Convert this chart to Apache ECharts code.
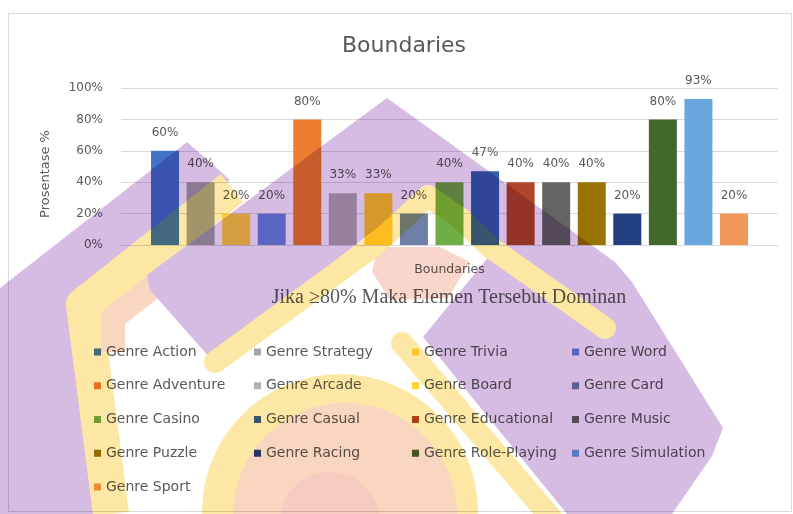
<!DOCTYPE html>
<html>
<head>
<meta charset="utf-8">
<script src="https://cdn.jsdelivr.net/npm/echarts@6/dist/echarts.min.js"></script>
<style>
  html, body { margin: 0; padding: 0; background: #ffffff; }
  #chart { width: 793px; height: 514px; }
</style>
</head>
<body>
<div id="chart"></div>
<script>
// Chart data
const chartTitle = 'Boundaries';
const categories = ['Boundaries'];
const genres = [
  'Genre Action', 'Genre Strategy', 'Genre Trivia', 'Genre Word',
  'Genre Adventure', 'Genre Arcade', 'Genre Board', 'Genre Card',
  'Genre Casino', 'Genre Casual', 'Genre Educational', 'Genre Music',
  'Genre Puzzle', 'Genre Racing', 'Genre Role-Playing', 'Genre Simulation',
  'Genre Sport'
];
const percentages = [60, 40, 20, 20, 80, 33, 33, 20, 40, 47, 40, 40, 40, 20, 80, 93, 20];
const genreColors = [
  '#4472C4', '#A5A5A5', '#FFD848', '#6A8AD8',
  '#ED7D31', '#B4AFB2', '#FFD030', '#6E80A5',
  '#70AD47', '#375EAB', '#B0452C', '#636363',
  '#997300', '#22407F', '#43682B', '#6CA6DE',
  '#F1975A'
];
const yTickStep = 20;
const yMax = 100;
const footnote = 'Jika \u226580% Maka Elemen Tersebut Dominan';
const yAxisTitle = 'Prosentase %';

const textGray = '#595959';
const gridGray = '#D9D9D9';
const uiFont = 'DejaVu Sans';

// One bar series per genre, all inside the single category
const series = genres.map((name, i) => ({
  name: name,
  type: 'bar',
  data: [percentages[i]],
  barWidth: 28,
  barGap: '27%',
  itemStyle: { color: genreColors[i] },
  label: {
    show: true,
    position: 'top',
    distance: 12,
    formatter: '{c}%',
    color: textGray,
    fontSize: 12,
    fontFamily: uiFont
  }
}));

// Legend laid out as four columns, filled row by row
const legendLefts = [89, 249, 407, 567];
const legends = legendLefts.map((left, col) => ({
  orient: 'vertical',
  left: left,
  top: 340,
  itemWidth: 7,
  itemHeight: 7,
  itemGap: 19.75,
  itemTextGap: 10,
  icon: 'rect',
  selectedMode: false,
  data: genres.filter((g, i) => i % 4 === col),
  textStyle: { color: textGray, fontSize: 14, fontFamily: uiFont, lineHeight: 14 }
}));

// Emblem watermark: opaque shapes on their own layer, multiplied over the chart
const EMBLEM_LAYER = 1;
const lavender = '#D6BBE3';
const butter = '#FCE7A4';
const peach = '#F9D6C0';
const blush = '#F8D6CB';
function poly(points, fill) {
  return { type: 'polygon', zlevel: EMBLEM_LAYER, silent: true,
    shape: { points: points }, style: { fill: fill } };
}
function band(points, color, width, cap) {
  return { type: 'polyline', zlevel: EMBLEM_LAYER, silent: true,
    shape: { points: points },
    style: { stroke: color, lineWidth: width, lineJoin: 'round', lineCap: cap || 'round', fill: null } };
}
function disc(cx, cy, r, fill) {
  return { type: 'circle', zlevel: EMBLEM_LAYER, silent: true,
    shape: { cx: cx, cy: cy, r: r }, style: { fill: fill } };
}
const emblem = [
  disc(340, 512, 138, butter),
  disc(345, 515, 112, peach),
  disc(330, 522, 50, '#F6CBC0'),
  poly([[0,288],[187,142],[230,180],[100,280],[84,292],[72,312],[98,514],[0,514]], lavender),
  band([[111,514],[84,305],[232,188]], butter, 36, 'butt'),
  band([[113,352],[113,318],[190,258]], peach, 24, 'butt'),
  poly([[147,275],[387,98],[615,262],[632,282],[723,428],[712,456],[672,514],[567,514],
        [423,337],[490,255],[460,218],[428,190],[372,232],[210,358],[150,290]], lavender),
  poly([[378,247],[440,247],[470,262],[448,298],[390,300],[372,272]], blush),
  band([[215,362],[375,245],[428,196],[460,218],[490,247],[605,328]], butter, 22),
  band([[402,343],[553,520]], butter, 22)
];

const chart = echarts.init(document.getElementById('chart'), null, { renderer: 'canvas' });
chart.setOption({
  backgroundColor: '#ffffff',
  animation: false,
  textStyle: { fontFamily: uiFont },
  grid: { left: 121, right: 15, top: 88, bottom: 269 },
  legend: legends,
  xAxis: {
    type: 'category',
    data: categories,
    axisLine: { show: true, lineStyle: { color: gridGray } },
    axisTick: { show: false },
    axisLabel: { color: textGray, fontSize: 12.5, margin: 18, fontFamily: uiFont }
  },
  yAxis: {
    type: 'value',
    min: 0,
    max: yMax,
    interval: yTickStep,
    axisLine: { show: false },
    axisTick: { show: false },
    splitLine: { lineStyle: { color: gridGray } },
    axisLabel: { color: textGray, fontSize: 12, margin: 18, formatter: '{value}%', fontFamily: uiFont }
  },
  series: series,
  graphic: [
    { type: 'rect', silent: true,
      shape: { x: 8.5, y: 13.5, width: 783, height: 498 },
      style: { fill: 'none', stroke: gridGray, lineWidth: 1 } },
    { type: 'text', x: 404, y: 46,
      style: { text: chartTitle, fill: textGray, font: '22px "DejaVu Sans"', textAlign: 'center', textVerticalAlign: 'middle' } },
    { type: 'text', x: 46, y: 174, rotation: Math.PI / 2,
      style: { text: yAxisTitle, fill: textGray, font: '13px "DejaVu Sans"', textAlign: 'center', textVerticalAlign: 'middle' } },
    { type: 'text', x: 449, y: 298,
      style: { text: footnote, fill: textGray, font: '20px "Liberation Serif"', textAlign: 'center', textVerticalAlign: 'middle' } }
  ].concat(emblem)
});

// Blend the emblem layer over the chart layer
const dom = chart.getDom();
let emblemCanvas = dom.querySelector('canvas[data-zr-dom-id="zr_' + EMBLEM_LAYER + '"]');
if (!emblemCanvas) {
  const all = dom.querySelectorAll('canvas');
  emblemCanvas = all.length > 1 ? all[all.length - 1] : null;
}
if (emblemCanvas) {
  emblemCanvas.style.mixBlendMode = 'multiply';
}
</script>
</body>
</html>
